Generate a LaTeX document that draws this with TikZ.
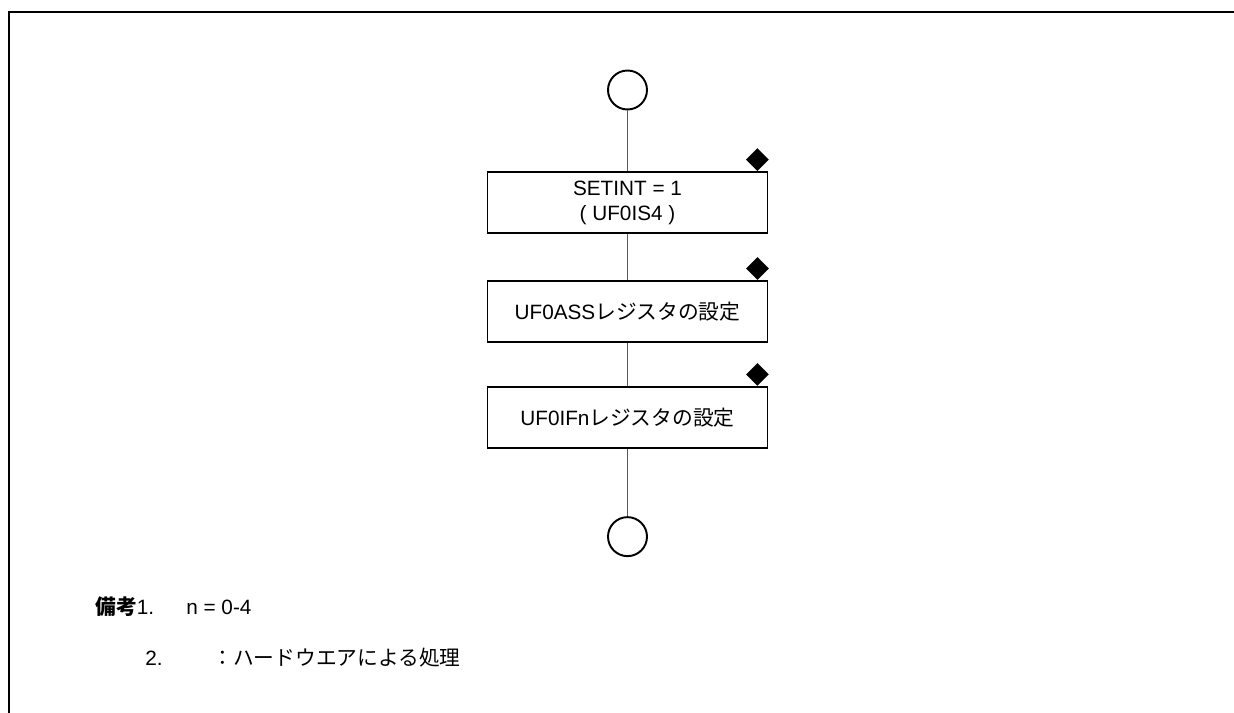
\documentclass[tikz,border=0pt]{standalone}
\usepackage{fontspec}
\setmainfont{Liberation Sans}
\newfontfamily\jp{Noto Sans CJK JP}
\usepackage{tikz}
\usetikzlibrary{positioning, shapes.geometric}
\begin{document}
\begin{tikzpicture}[
  x=0.02cm, y=-0.02cm,
  font=\fontsize{11.8}{14.2}\selectfont,
  term/.style={circle, draw, line width=1.1pt, minimum size=0.78cm, inner sep=0pt},
  proc/.style={rectangle, draw, line width=1.1pt, minimum width=5.6cm,
               minimum height=1.22cm, align=center, inner sep=0pt},
  hwmark/.style={diamond, fill=black, minimum width=0.46cm,
                 minimum height=0.46cm, inner sep=0pt, anchor=south},
  link/.style={draw=black!65, line width=0.6pt},
  note/.style={anchor=base west, inner sep=0pt}
]
\useasboundingbox (0,0) rectangle (1234,713);
\draw[line width=1.1pt] (9,713) -- (9,12) -- (1234,12);
% flow
\node[term] (start) at (627.5,90) {};
\node[proc, below=1.22cm of start] (setint) {SETINT = 1\\( UF0IS4 )};
\node[proc, below=0.92cm of setint] (assreg) {UF0ASS{\jp レジスタの設定}};
\node[proc, below=0.86cm of assreg] (ifnreg) {UF0IFn{\jp レジスタの設定}};
\node[term, below=1.34cm of ifnreg] (stop) {};
\draw[link] (start) -- (setint);
\draw[link] (setint) -- (assreg);
\draw[link] (assreg) -- (ifnreg);
\draw[link] (ifnreg) -- (stop);
% hardware marks
\node[hwmark] (hw1) at ([xshift=-0.22cm]setint.north east) {};
\node[hwmark] (hw2) at ([xshift=-0.22cm]assreg.north east) {};
\node[hwmark] (hw3) at ([xshift=-0.22cm]ifnreg.north east) {};
% remarks
\node[note] (rem1) at (95,614) {{\jp\bfseries 備考}1.};
\node[note] (nrange) at (186,614) {n = 0-4};
\node[note] (rem2) at (145,665) {2.};
\node[note] (hwtext) at (212,665) {\jp ：ハードウエアによる処理};
\end{tikzpicture}
\end{document}
